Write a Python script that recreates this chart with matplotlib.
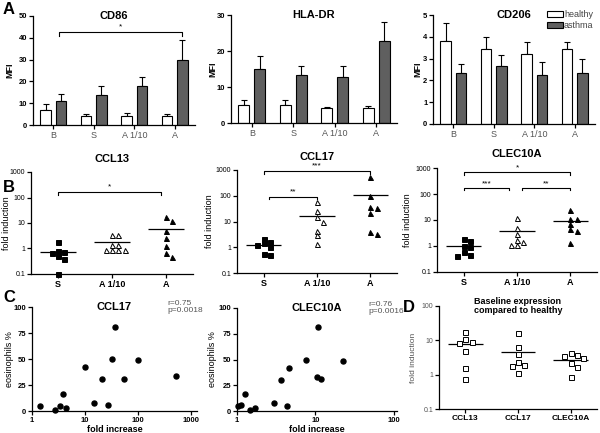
import matplotlib
matplotlib.use("Agg")
import matplotlib.pyplot as plt
import numpy as np
from matplotlib.patches import Patch
from matplotlib.ticker import NullLocator, NullFormatter

plt.rcParams['font.family'] = ['Liberation Sans', 'DejaVu Sans']

# --- A: bar charts (MFI, mean + SEM) ---
bar_groups = ["B", "S", "A 1/10", "A"]
cd86_healthy = [6.9, 4.1, 4.1, 4.1]
cd86_healthy_err = [2.7, 0.9, 1.2, 0.9]
cd86_asthma = [11.0, 13.8, 17.9, 29.8]
cd86_asthma_err = [3.1, 4.1, 4.3, 9.2]
hla_healthy = [5.1, 5.1, 4.2, 4.2]
hla_healthy_err = [1.3, 1.3, 0.35, 0.5]
hla_asthma = [15.1, 13.4, 12.8, 22.7]
hla_asthma_err = [3.4, 2.5, 3.1, 5.4]
cd206_healthy = [3.79, 3.44, 3.21, 3.44]
cd206_healthy_err = [0.84, 0.55, 0.54, 0.32]
cd206_asthma = [2.34, 2.68, 2.23, 2.34]
cd206_asthma_err = [0.42, 0.5, 0.6, 0.66]

# --- B: fold induction per stimulus ---
stim_groups = ["S", "A 1/10", "A"]
ccl13_vals = [[1.75, 0.8, 0.72, 0.65, 0.5, 0.38, 0.1],
              [3.5, 3.5, 1.4, 1.4, 0.85, 0.85, 0.85, 0.85],
              [17.0, 12.5, 4.8, 2.5, 1.23, 0.68, 0.47]]
ccl13_means = [0.75, 1.8, 5.6]
ccl17_vals = [[2.1, 1.54, 1.4, 1.25, 1.0, 0.56, 0.48],
              [56, 26, 14.5, 10, 4.3, 2.9, 1.3],
              [535, 100, 36, 32, 22, 3.9, 3.2]]
ccl17_means = [1.2, 16.5, 107]
clec_vals = [[1.9, 1.5, 0.96, 0.92, 0.59, 0.46, 0.4],
             [11.9, 4.9, 3.0, 1.7, 1.4, 1.1, 1.1],
             [23.5, 10.9, 10.9, 7.2, 4.5, 3.7, 1.27]]
clec_means = [0.96, 3.7, 8.9]

# --- C: correlation with eosinophils ---
ccl17_fold = [1.4, 2.75, 3.4, 3.9, 4.3, 9.9, 15, 21.3, 27, 32.4, 37, 55, 101, 525]
ccl17_eos = [4.8, 0.6, 4.8, 16, 3.2, 42, 7.7, 30.7, 5.8, 49.8, 80.8, 30.7, 49.2, 33.2]
clec_fold = [1.03, 1.11, 1.28, 1.45, 1.7, 2.95, 3.63, 4.4, 4.64, 7.6, 10.6, 10.7, 11.7, 22.5]
clec_eos = [4.9, 5.5, 16.2, 0.6, 3.2, 7.8, 30.2, 4.9, 42.2, 49.7, 33.1, 81.2, 30.8, 49]

# --- D: baseline vs healthy ---
base_groups = ["CCL13", "CCL17", "CLEC10A"]
base_vals = [[17.2, 10.8, 9.2, 8.6, 5.0, 1.6, 0.74],
             [16, 6.3, 4.0, 2.27, 1.85, 1.77, 1.13],
             [4.25, 3.8, 3.55, 3.04, 2.26, 1.62, 0.85]]
base_means = [7.7, 4.7, 2.7]

W, H = 600, 433
fig = plt.figure(figsize=(6, 4.33), dpi=100)
GRAY = "#5f5f5f"


def add_ax(l, t, r, b):
    ax = fig.add_axes([l / W, 1 - b / H, (r - l) / W, (b - t) / H])
    ax._px = (l, r)
    return ax


def ylab(ax, text, center_px, **kw):
    # put the y label so that its centre sits at center_px (figure pixels)
    l, r = ax._px
    ax.set_ylabel(text, **kw)
    ax.yaxis.set_label_coords((center_px + 4 - l) / (r - l), 0.5)


def style(ax):
    for s in ("top", "right"):
        ax.spines[s].set_visible(False)
    for s in ("left", "bottom"):
        ax.spines[s].set_linewidth(0.9)
    ax.tick_params(length=3, width=0.9, labelsize=5.5, pad=1)


def swarm(vals, dx=0.12, dy=0.17):
    """place points side by side when their log values are close"""
    lv = np.log10(vals)
    placed = []
    offs = []
    for v in lv:
        for k in [0, 1, -1, 2, -2, 3, -3]:
            o = k * dx
            if all(abs(o - po) > dx * 0.9 or abs(v - pv) > dy for po, pv in placed):
                break
        placed.append((o, v))
        offs.append(o)
    return np.array(offs)


def bar_panel(ax, title, h, h_err, a, a_err, ymax, ystep, lab_px):
    style(ax)
    x = np.arange(len(bar_groups))
    for off, vals, err, fc in [(-0.19, h, h_err, "white"), (0.19, a, a_err, GRAY)]:
        ax.bar(x + off, vals, 0.26, color=fc, edgecolor="black", linewidth=0.8, zorder=2)
        ax.errorbar(x + off, vals, yerr=[np.zeros(len(vals)), err], fmt="none",
                    ecolor="black", elinewidth=0.8, capsize=2.5, capthick=0.8, zorder=1)
    ax.set_xlim(-0.5, 3.5)
    ax.set_ylim(0, ymax)
    ax.set_yticks(np.arange(0, ymax + 0.01, ystep))
    ax.set_xticks(x, bar_groups, color="#555555", fontsize=6.5)
    for lab in ax.get_yticklabels():
        lab.set_fontweight("bold")
    ylab(ax, "MFI", lab_px, fontsize=6.5, fontweight="bold")
    ax.text(0.5, 1.0, title, transform=ax.transAxes, ha="center", va="center",
            fontsize=8, fontweight="bold")


def bracket(ax, x1, x2, y, drop, label, ty):
    ax.plot([x1, x1, x2, x2], [drop, y, y, drop], color="black", lw=0.8, clip_on=False)
    ax.text((x1 + x2) / 2, ty, label, ha="center", va="center", fontsize=6, clip_on=False)


def dot_panel(ax, groups, vals_list, means, markers, labels):
    style(ax)
    for i, (vals, (m, fc)) in enumerate(zip(vals_list, markers)):
        xs = i + 1 + swarm(vals)
        ax.plot(xs, vals, ls="none", marker=m, ms=3.6, mfc=fc, mec="black", mew=0.7,
                clip_on=False, zorder=3)
        ax.hlines(means[i], i + 1 - 0.33, i + 1 + 0.33, color="black", lw=0.9, zorder=2)
    ax.set_yscale("log")
    ax.set_ylim(0.1, 1000)
    ax.set_yticks([0.1, 1, 10, 100, 1000], ["0.1", "1", "10", "100", "1000"])
    ax.yaxis.set_minor_locator(NullLocator())
    ax.yaxis.set_minor_formatter(NullFormatter())
    ax.tick_params(axis="y", labelsize=5)
    ax.set_xlim(0.5, 3.5)
    ax.set_xticks([1, 2, 3], labels, fontweight="bold", fontsize=6.5)


# ---- row A ----
ax = add_ax(33, 16, 195, 125)
bar_panel(ax, "CD86", cd86_healthy, cd86_healthy_err, cd86_asthma, cd86_asthma_err, 50, 10, 10)
bracket(ax, 0.15, 3.19, 42.5, 40.8, "*", 45)

ax = add_ax(231, 15, 397, 123)
bar_panel(ax, "HLA-DR", hla_healthy, hla_healthy_err, hla_asthma, hla_asthma_err, 30, 10, 213)

ax = add_ax(433, 15, 595, 124)
bar_panel(ax, "CD206", cd206_healthy, cd206_healthy_err, cd206_asthma, cd206_asthma_err, 5, 1, 418)
ax.legend([Patch(facecolor="white", edgecolor="black", lw=0.8),
           Patch(facecolor=GRAY, edgecolor="black", lw=0.8)],
          ["healthy", "asthma"], loc="upper left", bbox_to_anchor=(0.68, 1.08),
          frameon=False, fontsize=6.5, handlelength=1.8, handleheight=0.6,
          handletextpad=0.1, labelspacing=0.25, borderaxespad=0, labelcolor="#444444")

# ---- row B ----
stim_markers = [("s", "black"), ("^", "white"), ("^", "black")]

ax = add_ax(31, 172, 193, 274)
dot_panel(ax, stim_groups, ccl13_vals, ccl13_means, stim_markers, stim_groups)
ylab(ax, "fold induction", 7, fontsize=6.5)
ax.text(0.5, 1.13, "CCL13", transform=ax.transAxes, ha="center", va="center",
        fontsize=8, fontweight="bold")
bracket(ax, 1, 2.9, 166, 123, "*", 260)

ax = add_ax(237, 170, 397, 273)
dot_panel(ax, stim_groups, ccl17_vals, ccl17_means, stim_markers, stim_groups)
ylab(ax, "fold induction", 210, fontsize=6.5)
ax.text(0.5, 1.13, "CCL17", transform=ax.transAxes, ha="center", va="center",
        fontsize=8, fontweight="bold")
bracket(ax, 1.1, 2.0, 92, 72, "**", 140)
bracket(ax, 1, 3, 940, 700, "***", 1400)

ax = add_ax(437, 168, 597, 272)
dot_panel(ax, stim_groups, clec_vals, clec_means, stim_markers, stim_groups)
ylab(ax, "fold induction", 408, fontsize=6.5)
ax.text(0.5, 1.13, "CLEC10A", transform=ax.transAxes, ha="center", va="center",
        fontsize=8, fontweight="bold")
bracket(ax, 1, 1.85, 170, 137, "***", 250)
bracket(ax, 2.1, 3, 170, 137, "**", 250)
bracket(ax, 1, 3, 680, 530, "*", 1000)


# ---- row C ----
def corr_panel(ax, fold, eos, xmax, xticks, title, stat, lab_px):
    style(ax)
    ax.plot(fold, eos, ls="none", marker="o", ms=3.6, color="black", clip_on=False, zorder=3)
    ax.set_xscale("log")
    ax.set_xlim(1, xmax)
    ax.set_xticks(xticks, [str(t) for t in xticks])
    ax.xaxis.set_minor_locator(NullLocator())
    ax.set_ylim(0, 100)
    ax.set_yticks([0, 25, 50, 75, 100])
    for lab in ax.get_xticklabels() + ax.get_yticklabels():
        lab.set_fontweight("bold")
    ax.set_xlabel("fold increase", fontsize=6.5, fontweight="bold", labelpad=1)
    ylab(ax, "eosinophils %", lab_px, fontsize=6.5)
    ax.text(0.5, 1.0, title, transform=ax.transAxes, ha="center", va="center",
            fontsize=8, fontweight="bold")
    ax.text(0.82, 1.0, stat, transform=ax.transAxes, ha="left", va="center",
            fontsize=6, color="#555555", linespacing=1.1)


ax = add_ax(32, 307, 197, 411)
corr_panel(ax, ccl17_fold, ccl17_eos, 1300, [1, 10, 100, 1000], "CCL17", "r=0.75\np=0.0018", 10)
ax = add_ax(237, 308, 397, 411)
corr_panel(ax, clec_fold, clec_eos, 110, [1, 10, 100], "CLEC10A", "r=0.76\np=0.0016", 213)

# ---- row D ----
ax = add_ax(439, 306, 597, 409)
dot_panel(ax, base_groups, base_vals, base_means, [("s", "white")] * 3, base_groups)
ax.set_ylim(0.1, 100)
ax.set_yticks([0.1, 1, 10, 100], ["0.1", "1", "10", "100"])
ax.yaxis.set_minor_locator(NullLocator())
ax.tick_params(axis="y", labelcolor="#555555", labelsize=5)
ax.tick_params(axis="x", labelsize=6)
ylab(ax, "fold induction", 413, fontsize=6, color="#555555")
ax.text(0.5, 1.0, "Baseline expression\ncompared to healthy", transform=ax.transAxes,
        ha="center", va="center", fontsize=6.5, fontweight="bold", linespacing=1.1)

# panel letters
for letter, x, y in [("A", 3, 10), ("B", 3, 187), ("C", 3, 298), ("D", 403, 308)]:
    fig.text(x / W, 1 - y / H, letter, fontsize=12, fontweight="bold", ha="left", va="center")

fig.savefig("out.png", dpi=100)
